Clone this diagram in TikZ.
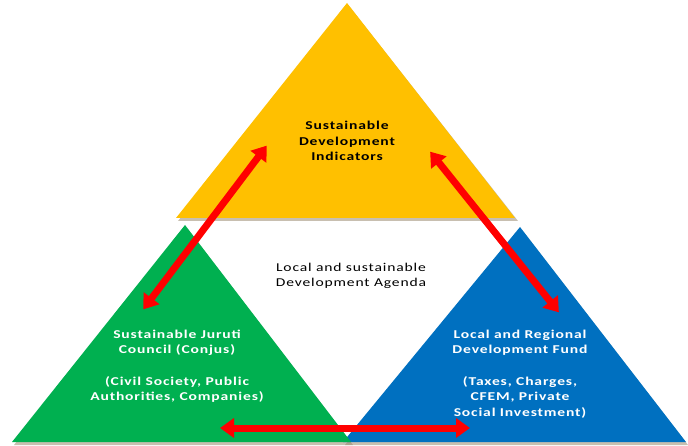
\documentclass[tikz,border=0pt]{standalone}
\usepackage{fontspec}
\newfontfamily\lab[FakeStretch=1.3,LetterSpace=7]{Carlito}
\usetikzlibrary{arrows.meta}
\definecolor{ygold}{HTML}{FFC000}
\definecolor{ggreen}{HTML}{00B050}
\definecolor{bblue}{HTML}{0070C0}
\definecolor{shad}{HTML}{9A8A70}
\tikzset{
  shadowtri/.style={fill=shad,opacity=0.55,draw=none},
  lbl/.style={align=center,font=\lab\bfseries\fontsize{12}{15.5}\selectfont,inner sep=0pt},
  redarrow/.style={draw=red,line width=7pt,{Triangle[length=14pt,width=19pt]}-{Triangle[length=14pt,width=19pt]},shorten <=-3pt,shorten >=-3pt}
}
\begin{document}
\begin{tikzpicture}[x=1pt,y=-1pt]
\useasboundingbox (0,0) rectangle (688,446);
% shadows
\fill[shadowtri] (14,445) -- (187,228) -- (353,445) -- cycle;
\fill[shadowtri] (345,445) -- (522,230) -- (688,445) -- cycle;
\fill[shadowtri] (178,221) -- (349,6) -- (518,221) -- cycle;
% triangles
\fill[bblue] (343,442) -- (520,227) -- (686,442) -- cycle;
\fill[ggreen] (12,442) -- (185,225) -- (351,442) -- cycle;
\fill[ygold] (176,218) -- (347,3) -- (515,218) -- cycle;
% text
\node[lbl,text=black] (ind) at (347,141) {Sustainable\\Development\\Indicators};
\node[lbl,text=black,font=\lab\fontsize{12}{15.5}\selectfont] (agenda) at (351,276) {Local and sustainable\\Development Agenda};
\node[lbl,text=white] (conjus) at (177,366) {Sustainable Juruti\\Council (Conjus)\\[16pt](Civil Society, Public\\Authorities, Companies)};
\node[lbl,text=white] (fund) at (520,374) {Local and Regional\\Development Fund\\[16pt](Taxes, Charges,\\CFEM, Private\\Social Investment)};
% arrow end points
\coordinate (lA) at (145,307);
\coordinate (lB) at (265,148);
\coordinate (rA) at (557,310);
\coordinate (rB) at (432,154);
\coordinate (bA) at (223,428);
\coordinate (bB) at (467,428);
\draw[redarrow] (lA) -- (lB);
\draw[redarrow] (rA) -- (rB);
\draw[redarrow] (bA) -- (bB);
\end{tikzpicture}
\end{document}
